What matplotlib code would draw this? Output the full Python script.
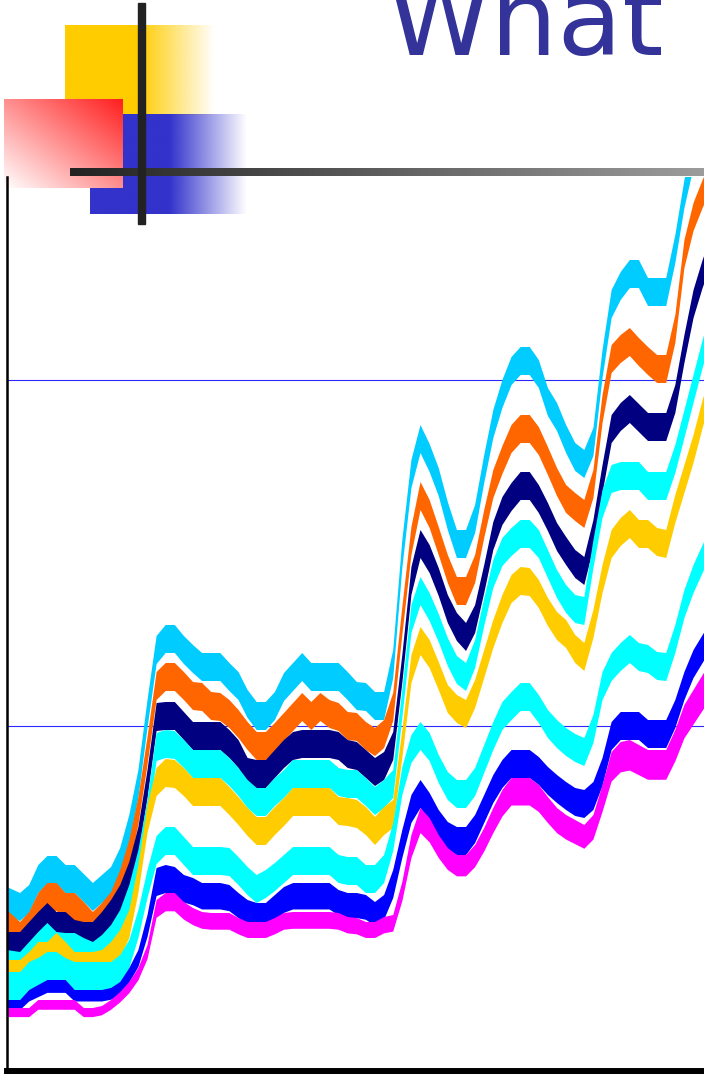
import numpy as np
import matplotlib.pyplot as plt
from matplotlib.patches import Rectangle

# height of the top edge of every ribbon, one value per point (left -> right)
sky = [185, 179, 187, 207, 216, 216, 207, 207, 198, 189, 197, 205, 224, 257, 302, 372, 436, 447, 447, 436,
       427, 419, 419, 419, 409, 400, 382, 370, 370, 380, 399, 409, 419, 409, 409, 409, 409, 400, 390, 389,
       380, 380, 422, 532, 612, 647, 628, 604, 570, 542, 542, 567, 617, 662, 692, 715, 725, 725, 712, 684,
       669, 647, 629, 622, 644, 722, 782, 800, 812, 812, 794, 794, 794, 837, 892, 932, 962, 982]
orange = [162, 150, 160, 179, 189, 189, 179, 179, 170, 160, 169, 180, 202, 232, 275, 335, 400, 409, 409, 400,
          390, 389, 380, 379, 372, 362, 350, 340, 340, 349, 359, 369, 379, 370, 379, 372, 369, 360, 359, 350,
          344, 352, 379, 465, 545, 590, 572, 545, 517, 495, 495, 517, 562, 602, 626, 647, 657, 657, 645, 625,
          604, 587, 579, 572, 602, 677, 727, 737, 744, 734, 725, 717, 717, 757, 832, 869, 892, 912]
navy = [140, 140, 150, 160, 169, 160, 160, 152, 150, 150, 160, 172, 187, 210, 245, 302, 369, 370, 370, 360,
        350, 350, 350, 350, 342, 332, 314, 312, 312, 322, 332, 340, 342, 342, 342, 342, 340, 332, 330, 322,
        314, 320, 340, 417, 505, 542, 527, 504, 477, 459, 449, 467, 507, 550, 575, 589, 600, 600, 587, 569,
        549, 535, 522, 515, 552, 607, 657, 669, 677, 668, 659, 659, 659, 687, 737, 782, 812, 837]
aqua = [122, 120, 130, 140, 149, 140, 139, 139, 134, 130, 137, 147, 162, 187, 222, 272, 339, 342, 341, 332,
        322, 322, 322, 322, 314, 304, 292, 284, 284, 294, 302, 312, 312, 312, 312, 312, 304, 302, 302, 294,
        285, 292, 302, 382, 467, 495, 479, 458, 434, 416, 409, 432, 474, 512, 534, 544, 552, 552, 542, 522,
        502, 487, 477, 475, 532, 582, 607, 610, 610, 610, 600, 600, 600, 627, 662, 697, 732, 762]
gold = [112, 112, 120, 130, 130, 139, 130, 120, 120, 120, 122, 130, 142, 162, 207, 267, 304, 313, 312, 304,
        294, 294, 294, 294, 285, 275, 264, 255, 255, 265, 274, 284, 284, 284, 284, 284, 275, 274, 272, 265,
        255, 265, 272, 342, 417, 445, 432, 410, 387, 377, 372, 392, 422, 452, 477, 497, 505, 504, 492, 474,
        460, 452, 437, 429, 462, 507, 542, 554, 562, 552, 552, 544, 542, 577, 607, 637, 672, 702]
aqua2 = [100, 100, 110, 114, 120, 120, 114, 110, 110, 110, 110, 110, 117, 132, 162, 202, 236, 245, 245, 235,
         225, 225, 225, 225, 224, 215, 205, 197, 202, 209, 217, 225, 225, 225, 225, 225, 217, 215, 215, 207,
         207, 217, 249, 305, 337, 350, 339, 317, 300, 292, 292, 304, 327, 350, 370, 380, 389, 389, 377, 362,
         352, 344, 338, 334, 357, 400, 419, 429, 437, 429, 427, 420, 419, 447, 482, 507, 527, 547]
blue = [72, 72, 82, 87, 92, 92, 92, 82, 82, 82, 82, 84, 90, 104, 122, 157, 204, 207, 205, 197,
        194, 189, 189, 189, 187, 179, 172, 169, 169, 177, 185, 189, 189, 189, 189, 189, 182, 179, 179, 177,
        170, 177, 202, 242, 277, 292, 279, 262, 250, 245, 245, 257, 277, 297, 312, 322, 322, 322, 315, 305,
        297, 290, 284, 282, 290, 314, 350, 360, 360, 360, 352, 352, 352, 372, 400, 422, 437, 452]
magenta = [64, 64, 64, 72, 72, 72, 72, 72, 64, 64, 66, 72, 80, 90, 104, 127, 172, 179, 179, 170,
           164, 160, 159, 159, 159, 154, 150, 150, 150, 154, 159, 160, 160, 160, 160, 160, 159, 155, 154, 150,
           150, 155, 157, 190, 237, 264, 254, 237, 224, 217, 217, 227, 244, 264, 282, 294, 294, 294, 287, 275,
           264, 257, 252, 247, 257, 287, 320, 330, 332, 327, 322, 322, 322, 342, 367, 382, 397, 412]

series = [sky, orange, navy, aqua, gold, aqua2, blue, magenta]
colors = ['#00CCFF', '#FF6600', '#000080', '#00FFFF', '#FFCC00', '#00FFFF', '#0000FF', '#FF00FF']
grid_levels = [346, 692]

fig = plt.figure(figsize=(7.04, 10.74), dpi=100)

# slide decoration (pixel coordinates, y down)
deco = fig.add_axes([0, 0, 1, 1])
deco.axis('off')


def fade_box(x0, x1, y0, y1, rgb, solid_to):
    xs = np.linspace(x0, x1, 300)
    img = np.zeros((2, 300, 4))
    img[..., :3] = rgb
    img[..., 3] = np.clip((x1 - xs) / (x1 - solid_to), 0, 1)
    deco.imshow(img, extent=(x0, x1, y1, y0), aspect='auto', interpolation='bilinear')


fade_box(65, 215, 25, 115, (1.0, 0.8, 0.0), 139)
fade_box(90, 247, 114, 214, (0.2, 0.2, 0.8), 170)

# red square, red in the top right corner, white in the bottom left
u = np.linspace(0, 1, 200)
t = (u[None, :] + u[::-1][:, None]) / 2
red = np.ones((200, 200, 3))
red[..., 1] = 1 - t * 0.88
red[..., 2] = 1 - t * 0.88
deco.imshow(red, extent=(4, 123, 188, 99), aspect='auto', interpolation='bilinear')

# grey bar fading to the right
bar = np.linspace(0x22, 0x9c, 300) / 255
bar_img = np.repeat(np.stack([bar, bar, bar], axis=-1)[None, :, :], 2, axis=0)
deco.imshow(bar_img, extent=(70, 704, 176, 168), aspect='auto', interpolation='bilinear')
deco.add_patch(Rectangle((138, 3), 7, 221, color='#222222'))
deco.set_xlim(0, 704)
deco.set_ylim(1074, 0)

fig.text(387 / 704, 1 - 55 / 1074, 'What', fontsize=76, color='#333399', va='baseline', ha='left')

# chart
ax = fig.add_axes([7 / 704, 3 / 1074, 697 / 704, 894 / 1074])
ax.set_facecolor('none')
x = np.arange(len(sky), dtype=float)
x[0] = -0.44  # first reading sits on the axis line
for k, (vals, c) in enumerate(zip(series, colors)):
    top = np.array(vals, dtype=float)
    if k == 7:
        depth = 4 + 0.08 * top          # front ribbon is thinner near the floor
    elif k == 6:
        depth = np.minimum(28, 0.14 * top)
    else:
        depth = 28
    ax.fill_between(x, top - depth, top, color=c, lw=0, zorder=2)

ax.set_xlim(-0.44, 76.15)
ax.set_ylim(1, 895)
ax.set_yticks(grid_levels)
ax.set_xticks([])
ax.yaxis.grid(True, color='#2a2aff', lw=0.8)
ax.set_axisbelow(True)
ax.tick_params(length=0, labelleft=False, labelbottom=False)
ax.spines['top'].set_visible(False)
ax.spines['right'].set_visible(False)
ax.spines['left'].set_linewidth(1.8)
ax.spines['bottom'].set_linewidth(5)

fig.savefig('out.png', dpi=100)
